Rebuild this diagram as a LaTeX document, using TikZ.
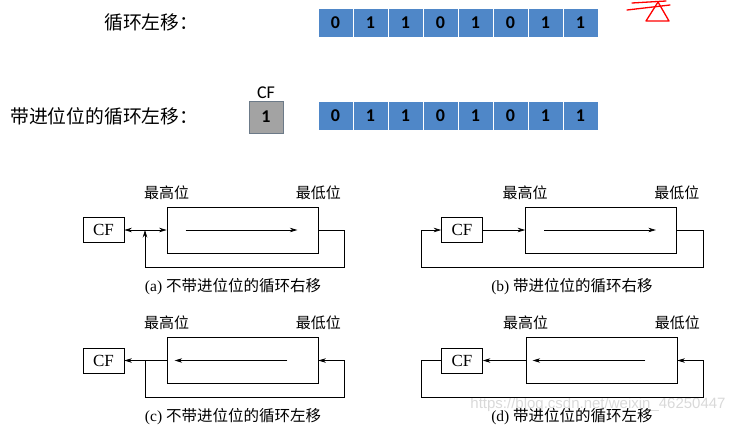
\documentclass[tikz,border=0pt]{standalone}
\usepackage{fontspec}
\setmainfont{Liberation Serif}
\newfontfamily\cjk{Noto Sans CJK SC}
\newfontfamily\cali{Carlito}
\newfontfamily\wmfont{Liberation Sans}
\usetikzlibrary{arrows.meta,positioning}
\definecolor{bitblue}{HTML}{4F87C8}
\definecolor{cfgray}{HTML}{A3A3A3}
\definecolor{cfedge}{HTML}{6C7A88}

\begin{document}
\begin{tikzpicture}[x=1pt, y=-1pt,
   bit/.style={draw=white, line width=0.8pt, fill=bitblue, minimum width=35pt,
     minimum height=29pt, inner sep=0pt, font=\cali\bfseries\fontsize{18}{18}\selectfont},
   cfbit/.style={draw=cfedge, line width=1pt, fill=cfgray, minimum width=34pt,
     minimum height=32pt, inner sep=0pt, font=\cali\bfseries\fontsize{18}{18}\selectfont},
   title/.style={anchor=west, inner sep=0pt, font=\cjk\fontsize{18.8}{20}\selectfont},
   reg/.style={draw, line width=0.7pt, minimum width=151pt, minimum height=46pt},
   cfbox/.style={draw, line width=0.7pt, minimum width=41pt, minimum height=25pt,
     inner sep=0pt, font=\fontsize{17}{17}\selectfont},
   lab/.style={inner sep=0pt, font=\cjk\fontsize{15}{16}\selectfont},
   capt/.style={inner sep=0pt, font=\fontsize{15.5}{17}\selectfont},
   line/.style={line width=0.7pt},
   arr/.style={line width=0.7pt, -{Stealth[length=7.5pt,width=4.5pt]}}]
   \useasboundingbox (0,0) rectangle (744,426);

   % upper half: the two register pictures
   \node[title] (rotl) at (104,22) {循环左移：};
   \node[title] (rcl) at (10,116) {带进位位的循环左移：};
   \foreach \b [count=\i] in {0,1,1,0,1,0,1,1}
     \node[bit] (ra\i) at (300.5+35*\i,22.5) {\b};
   \foreach \b [count=\i] in {0,1,1,0,1,0,1,1}
     \node[bit] (rb\i) at (300.5+35*\i,116) {\b};
   \node[cfbit] (cf) at (266,117) {1};
   \node[above=2pt of cf, inner sep=0pt, font=\cali\fontsize{18}{18}\selectfont] (cflab) {CF};

   % red pen marks
   \draw[red, line width=1.3pt, line cap=round] (627,10) -- (670,5);
   \draw[red, line width=1.3pt, line cap=round] (632,3) -- (666,1);
   \draw[red, line width=1.3pt, line join=round] (658,2) -- (646,21) -- (669,21) -- cycle;

   % watermark
   \node[text=gray!30, inner sep=0pt, font=\wmfont\fontsize{15}{15}\selectfont] (wm)
     at (598,405) {https://blog.csdn.net/weixin\_46250447};

   % (a)
   \node[cfbox] (cfa) at (103.5,230) {CF};
   \node[reg] (rega) at (242.5,230) {};
   \node[lab, above=7pt of rega.north west] (hia) {最高位};
   \node[lab, above=7pt of rega.north east] (loa) {最低位};
   \coordinate (aj) at (145,230);
   \coordinate (ab) at (344,267);
   \draw[arr] ([xshift=19pt]rega.west) -- ([xshift=-21pt]rega.east);
   \draw[arr] (aj) -- (cfa.east);
   \draw[arr] (aj) -- (rega.west);
   \draw[arr] (rega.east) -| (ab) -| (aj);
   \node[capt] (capa) at (233,287) {(a) {\cjk 不带进位位的循环右移}};

   % (b)
   \node[cfbox] (cfb) at (462,230) {CF};
   \node[reg] (regb) at (601,230) {};
   \node[lab, above=7pt of regb.north west] (hib) {最高位};
   \node[lab, above=7pt of regb.north east] (lob) {最低位};
   \coordinate (bb) at (703,267);
   \coordinate (bl) at (421,230);
   \draw[arr] ([xshift=19pt]regb.west) -- ([xshift=-21pt]regb.east);
   \draw[arr] (cfb.east) -- (regb.west);
   \draw[arr] (regb.east) -| (bb) -| (bl) -- (cfb.west);
   \node[capt] (capb) at (572,287) {(b) {\cjk 带进位位的循环右移}};

   % (c)
   \node[cfbox] (cfc) at (103.5,360.5) {CF};
   \node[reg] (regc) at (242.5,360.5) {};
   \node[lab, above=7pt of regc.north west] (hic) {最高位};
   \node[lab, above=7pt of regc.north east] (loc) {最低位};
   \coordinate (cj) at (145,360.5);
   \coordinate (cb) at (344,397);
   \draw[arr] ([xshift=-31pt]regc.east) -- ([xshift=8pt]regc.west);
   \draw[arr] (regc.west) -- (cfc.east);
   \draw[arr] (cj) |- (cb) |- (regc.east);
   \node[capt] (capc) at (233,416.5) {(c) {\cjk 不带进位位的循环左移}};

   % (d)
   \node[cfbox] (cfd) at (462,360.5) {CF};
   \node[reg] (regd) at (601.5,360.5) {};
   \node[lab, above=7pt of regd.north west] (hid) {最高位};
   \node[lab, above=7pt of regd.north east] (lod) {最低位};
   \coordinate (dl) at (421,397);
   \coordinate (dr) at (703,397);
   \draw[arr] ([xshift=-32pt]regd.east) -- ([xshift=7pt]regd.west);
   \draw[arr] (regd.west) -- (cfd.east);
   \draw[arr] (cfd.west) -| (dl) -- (dr) |- (regd.east);
   \node[capt] (capd) at (572,416.5) {(d) {\cjk 带进位位的循环左移}};
\end{tikzpicture}
\end{document}
